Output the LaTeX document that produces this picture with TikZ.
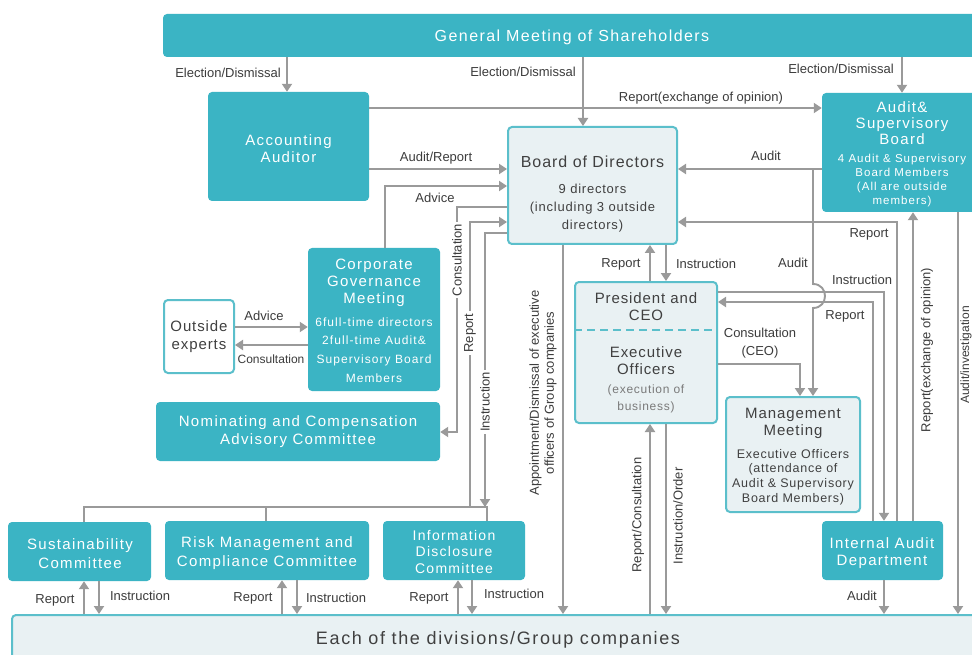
\documentclass[tikz,border=0pt]{standalone}
\usepackage{fontspec}
\setmainfont{Liberation Sans}
\newfontfamily\tf[LetterSpace=9]{Liberation Sans}
\newfontfamily\df[LetterSpace=6]{Liberation Sans}
\usetikzlibrary{arrows.meta}
\definecolor{teal1}{HTML}{3BB4C4}
\definecolor{tealb}{HTML}{5BBFCB}
\definecolor{lightf}{HTML}{E9F1F3}
\definecolor{linec}{HTML}{9A9A9A}
\definecolor{lblc}{HTML}{3C3C3C}
\definecolor{darkt}{HTML}{404040}
\definecolor{grayt}{HTML}{7A7A7A}
\newcommand{\fs}[2]{\fontsize{#1}{#2}\selectfont}
\begin{document}
\begin{tikzpicture}[x=1pt,y=-1pt,
 tbox/.style={fill=teal1, rounded corners=4pt, inner sep=0pt},
 lbox/.style={fill=lightf, draw=tealb, line width=2pt, rounded corners=4pt, inner sep=0pt},
 ttxt/.style={text=white, align=center, inner sep=0pt},
 dtxt/.style={text=darkt, align=center, inner sep=0pt},
 lbl/.style={text=lblc, inner sep=1pt, font=\fs{13}{15}},
 vlbl/.style={lbl, rotate=90, fill=white, inner sep=2pt},
 arr/.style={draw=linec, line width=1.9pt, -{Triangle[width=10pt,length=8pt]}},
 ln/.style={draw=linec, line width=1.9pt},
]
\useasboundingbox (0,0) rectangle (972,655);
\clip (0,0) rectangle (972,655);
\fill[white] (0,0) rectangle (972,655);

% boxes
\node[tbox, minimum width=822pt, minimum height=43pt] (gm) at (574,35.5) {};
\node[tbox, minimum width=161pt, minimum height=109pt] (aa) at (288.5,146.5) {};
\node[lbox, minimum width=169pt, minimum height=117pt] (bod) at (592.5,185.5) {};
\node[tbox, minimum width=163pt, minimum height=119pt] (asb) at (903.5,152.5) {};
\node[tbox, minimum width=132pt, minimum height=143pt] (cgm) at (374,319.5) {};
\node[lbox, fill=white, minimum width=70pt, minimum height=73pt] (oe) at (199,336.5) {};
\node[tbox, minimum width=284pt, minimum height=59pt] (ncac) at (298,431.5) {};
\node[lbox, minimum width=142pt, minimum height=141pt] (pceo) at (646,352.5) {};
\node[lbox, minimum width=134pt, minimum height=115pt] (mm) at (793,454.5) {};
\node[tbox, minimum width=143pt, minimum height=59pt] (sus) at (79.5,551.5) {};
\node[tbox, minimum width=204pt, minimum height=59pt] (rmc) at (267,550.5) {};
\node[tbox, minimum width=142pt, minimum height=59pt] (idc) at (454,550.5) {};
\node[tbox, minimum width=121pt, minimum height=59pt] (iad) at (882.5,550.5) {};
\node[lbox, minimum width=972pt, minimum height=55pt] (div) at (498,642.5) {};
\draw[tealb, line width=1.5pt, dash pattern=on 8pt off 5pt] (pceo.west |- 0,330) -- (pceo.east |- 0,330);

% box texts
\node[ttxt, font=\tf\fs{16}{18}] (gmt) at (572,37) {General Meeting of Shareholders};
\node[ttxt, font=\tf\fs{15}{17}] (aat) at (288.5,148.5) {Accounting\\Auditor};
\node[dtxt, font=\df\fs{16}{18}] (bodt) at (592.5,162) {Board of Directors};
\node[dtxt, font=\df\fs{13}{18}] (bods) at (592.5,208) {9 directors\\(including 3 outside\\directors)};
\node[ttxt, font=\tf\fs{15}{16}] (asbt) at (902,123) {Audit\&\\Supervisory\\Board};
\node[ttxt, font=\tf\fs{11.5}{14}] (asbs) at (902,181) {4 Audit \& Supervisory\\Board Members\\(All are outside\\members)};
\node[ttxt, font=\tf\fs{15}{17}] (cgmt) at (374,283) {Corporate\\Governance\\Meeting};
\node[ttxt, font=\tf\fs{12}{18.7}] (cgms) at (374,350) {6full-time directors\\2full-time Audit\&\\Supervisory Board\\Members};
\node[dtxt, font=\df\fs{15}{18}] (oet) at (199,337) {Outside\\experts};
\node[ttxt, font=\tf\fs{15}{18}] (ncact) at (298,432) {Nominating and Compensation\\Advisory Committee};
\node[dtxt, font=\df\fs{15}{17}] (pceot) at (646,306.5) {President and\\CEO};
\node[dtxt, font=\df\fs{15}{17}] (eot) at (646,360.5) {Executive\\Officers};
\node[dtxt, text=grayt, font=\df\fs{12}{17}] (eos) at (646,398.5) {(execution of\\business)};
\node[dtxt, font=\df\fs{15}{17}] (mmt) at (793,423.5) {Management\\Meeting};
\node[dtxt, font=\df\fs{12.5}{14.7}] (mms) at (793,477) {Executive Officers\\(attendance of\\Audit \& Supervisory\\Board Members)};
\node[ttxt, font=\tf\fs{15}{19}] (sust) at (80,553.5) {Sustainability\\Committee};
\node[ttxt, font=\tf\fs{15}{19}] (rmct) at (267,553.5) {Risk Management and\\Compliance Committee};
\node[ttxt, font=\tf\fs{14}{16.5}] (idct) at (454,551.5) {Information\\Disclosure\\Committee};
\node[ttxt, font=\tf\fs{15}{17}] (iadt) at (882,553.5) {Internal Audit\\Department};
\node[dtxt, font=\tf\fs{18}{20}] (divt) at (498,640) {Each of the divisions/Group companies};

% junction coordinates
\coordinate (auj) at (813,169);
\coordinate (busR) at (470,507);
\coordinate (busI) at (485,507);
\coordinate (busM) at (266,507);

% connectors
\draw[arr] (gm.south -| 287,0) -- (aa.north -| 287,0);
\draw[arr] (gm.south -| 583,0) -- (bod.north -| 583,0);
\draw[arr] (gm.south -| 902,0) -- (asb.north -| 902,0);
\draw[arr] (aa.east |- 0,108) -- (asb.west |- 0,108);
\draw[arr] (aa.east |- 0,169) -- (bod.west |- 0,169);
\draw[arr] (cgm.north -| 385,0) -- (385,186) -- (bod.west |- 0,186);
\draw[arr] (bod.west |- 0,207) -- (457,207) -- (457,432) -- (ncac.east |- 0,432);
\draw[arr] (busR) -- (470,222) -- (bod.west |- 0,222);
\draw[arr] (bod.west |- 0,233) -- (485,233) -- (busI);
\draw[ln] (sus.north -| 84,0) -- (84,507) -- (487,507) -- (idc.north -| 487,0);
\draw[ln] (busM) -- (rmc.north -| 266,0);
\draw[arr] (oe.east |- 0,327) -- (cgm.west |- 0,327);
\draw[arr] (cgm.west |- 0,345) -- (oe.east |- 0,345);
\draw[arr] (pceo.north -| 650,0) -- (bod.south -| 650,0);
\draw[arr] (bod.south -| 666,0) -- (pceo.north -| 666,0);
\draw[arr] (bod.south -| 563,0) -- (div.north -| 563,0);
\draw[arr] (div.north -| 650,0) -- (pceo.south -| 650,0);
\draw[arr] (pceo.south -| 666,0) -- (div.north -| 666,0);
\draw[arr] (pceo.east |- 0,364) -- (800,364) -- (mm.north -| 800,0);
\draw[arr] (asb.west |- 0,169) -- (bod.east |- 0,169);
\draw[arr] (auj) -- (813,284) .. controls (829,284) and (829,308) .. (813,308) -- (mm.north -| 813,0);
\draw[arr] (iad.north -| 897,0) -- (897,222) -- (bod.east |- 0,222);
\draw[arr] (pceo.east |- 0,292) -- (884,292) -- (iad.north -| 884,0);
\draw[arr] (iad.north -| 873,0) -- (873,302) -- (pceo.east |- 0,302);
\draw[arr] (iad.north -| 913,0) -- (asb.south -| 913,0);
\draw[arr] (asb.south -| 958,0) -- (div.north -| 958,0);
\draw[arr] (iad.south -| 884,0) -- (div.north -| 884,0);
\draw[arr] (div.north -| 84,0) -- (sus.south -| 84,0);
\draw[arr] (sus.south -| 99,0) -- (div.north -| 99,0);
\draw[arr] (div.north -| 282,0) -- (rmc.south -| 282,0);
\draw[arr] (rmc.south -| 297,0) -- (div.north -| 297,0);
\draw[arr] (div.north -| 458,0) -- (idc.south -| 458,0);
\draw[arr] (idc.south -| 472,0) -- (div.north -| 472,0);

% labels
\node[lbl] (l1) at (228,73) {Election/Dismissal};
\node[lbl] (l2) at (523,72) {Election/Dismissal};
\node[lbl] (l3) at (841,69) {Election/Dismissal};
\node[lbl] (l4) at (701,98) {Report(exchange of opinion)};
\node[lbl] (l5) at (436,158) {Audit/Report};
\node[lbl] (l6) at (435,198) {Advice};
\node[lbl] (l7) at (766,156) {Audit};
\node[lbl] (l8) at (869,234) {Report};
\node[lbl] (l9) at (621,264) {Report};
\node[lbl] (l10) at (706,264) {Instruction};
\node[lbl] (l11) at (793,263) {Audit};
\node[lbl] (l12) at (862,280) {Instruction};
\node[lbl] (l13) at (845,316) {Report};
\node[lbl, align=center, font=\fs{13}{18}] (l14) at (760,343) {Consultation\\(CEO)};
\node[lbl] (l15) at (264,316) {Advice};
\node[lbl, font=\fs{12}{14}] (l16) at (271,359) {Consultation};
\node[lbl] (l17) at (55,600) {Report};
\node[lbl] (l18) at (140,596) {Instruction};
\node[lbl] (l19) at (253,598) {Report};
\node[lbl] (l20) at (336,598) {Instruction};
\node[lbl] (l21) at (429,598) {Report};
\node[lbl] (l22) at (514,594) {Instruction};
\node[lbl] (l23) at (862,596) {Audit};
\node[vlbl] (v1) at (457,260) {Consultation};
\node[vlbl] (v2) at (470,333) {Report};
\node[vlbl] (v3) at (485,402) {Instruction};
\node[lbl, rotate=90, align=center, font=\fs{13}{15}] (v4) at (543,393) {Appointment/Dismissal of executive\\officers of Group companies};
\node[lbl, rotate=90] (v5) at (638,515) {Report/Consultation};
\node[lbl, rotate=90] (v6) at (678,516) {Instruction/Order};
\node[lbl, rotate=90] (v7) at (927,350) {Report(exchange of opinion)};
\node[lbl, rotate=90, inner sep=0pt, font=\fs{12}{14}] (v8) at (966,355) {Audit/investigation};
\end{tikzpicture}
\end{document}
